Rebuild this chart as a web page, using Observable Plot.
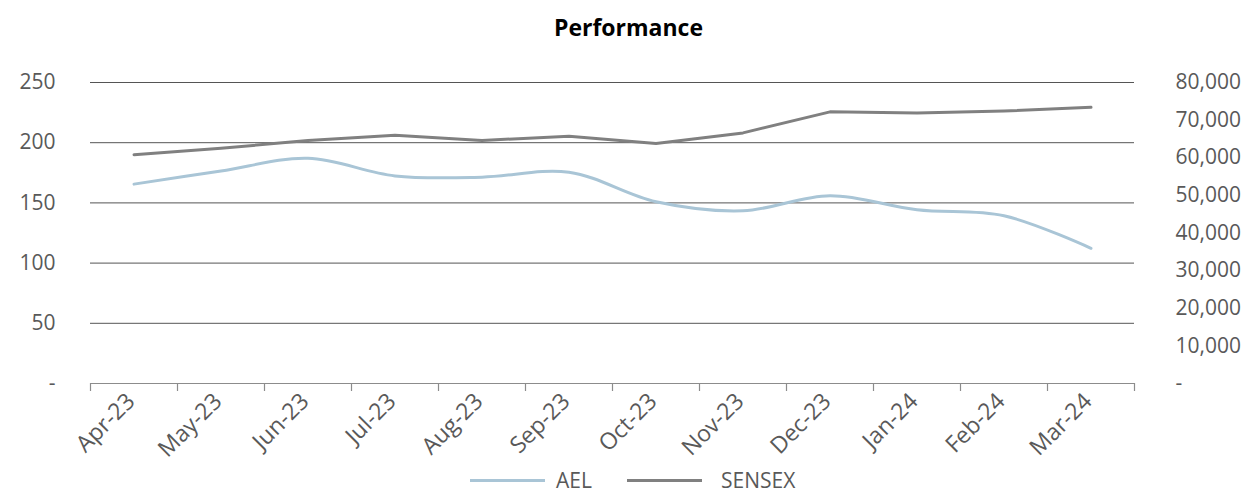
<!DOCTYPE html>
<html><head><meta charset="utf-8">
<script src="https://cdn.jsdelivr.net/npm/d3@7"></script>
<script src="https://cdn.jsdelivr.net/npm/@observablehq/plot@0.6"></script>
<style>
body{margin:0;background:#fff;font-family:"Open Sans",sans-serif;width:1249px;height:495px;overflow:hidden;}
#title{height:50px;line-height:55px;text-align:center;font-weight:bold;font-size:23px;color:#000;overflow:visible;padding-left:8px;}
#chart{height:415px;}
#legend{position:relative;height:30px;font-size:21px;color:#595959;}
#legend .sw{position:absolute;top:14px;height:3px;width:75px;}
#legend .tx{position:absolute;top:0;line-height:30px;}
</style></head><body>
<div id="title">Performance</div>
<div id="chart"></div>
<div id="legend"></div>
<script>
const months = ["Apr-23","May-23","Jun-23","Jul-23","Aug-23","Sep-23","Oct-23","Nov-23","Dec-23","Jan-24","Feb-24","Mar-24"];
const ael = [165.6, 176.5, 187, 172.4, 171.4, 175.5, 151, 143.5, 155.9, 144.3, 139.3, 112.3];
const sensex = [60800, 62500, 64600, 66000, 64600, 65700, 63800, 66600, 72200, 71900, 72400, 73400];
const leftTicks = [0, 50, 100, 150, 200, 250];
const rightTicks = [0, 10000, 20000, 30000, 40000, 50000, 60000, 70000, 80000];
const seriesNames = ["AEL", "SENSEX"];
const seriesColors = ["#a9c5d6", "#808080"];
const ratio = 320; // right-axis units per left-axis unit (80,000 ↔ 250)

const fmt = d3.format(",");
const chart = Plot.plot({
  width: 1249,
  height: 415,
  marginTop: 32,
  marginBottom: 82,
  marginLeft: 90,
  marginRight: 115,
  style: {fontFamily: "'Open Sans', sans-serif", fontSize: "21px", color: "#595959", background: "#fff"},
  x: {type: "linear", domain: [0, months.length]},
  y: {domain: [0, 250]},
  marks: [
    Plot.ruleY(leftTicks.filter(d => d > 0), {stroke: "#555", strokeWidth: 1}),
    Plot.ruleY([0], {stroke: "#8c8c8c", strokeWidth: 1.2}),
    Plot.axisX({ticks: d3.range(months.length + 1), tickFormat: () => "", tickSize: 8, stroke: "#8c8c8c", strokeWidth: 1.2, label: null}),
    Plot.axisX({ticks: months.map((_, i) => i + 0.5), tickFormat: d => months[Math.floor(d)], tickSize: 0, tickPadding: 14, tickRotate: -45, dx: -3, fontSize: 23, label: null, fill: "#595959"}),
    Plot.axisY({ticks: leftTicks, tickFormat: d => d === 0 ? "-" : String(d), tickSize: 0, tickPadding: 35, label: null, fill: "#595959"}),
    Plot.axisY({anchor: "right", ticks: rightTicks.map(v => v / ratio), tickFormat: d => { const v = Math.round(d * ratio); return v === 0 ? "-" : fmt(v); }, tickSize: 0, tickPadding: 41, label: null, fill: "#595959"}),
    Plot.line(ael, {x: (d, i) => i + 0.5, y: d => d, stroke: seriesColors[0], strokeWidth: 3, curve: "catmull-rom"}),
    Plot.line(sensex, {x: (d, i) => i + 0.5, y: d => d / ratio, stroke: seriesColors[1], strokeWidth: 3, curve: "linear"})
  ]
});
document.getElementById("chart").appendChild(chart);

const legend = document.getElementById("legend");
const swLeft = [470, 627];
const txLeft = [556, 721];
seriesNames.forEach((name, i) => {
  const sw = document.createElement("div");
  sw.className = "sw"; sw.style.left = swLeft[i] + "px"; sw.style.background = seriesColors[i];
  const tx = document.createElement("div");
  tx.className = "tx"; tx.style.left = txLeft[i] + "px"; tx.textContent = name;
  legend.appendChild(sw); legend.appendChild(tx);
});
</script>
</body></html>
